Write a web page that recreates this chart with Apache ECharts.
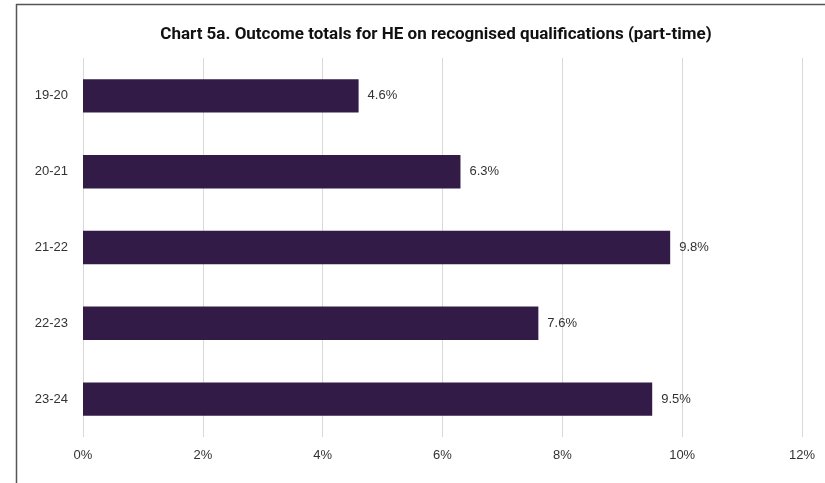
<!DOCTYPE html>
<html><head><meta charset="utf-8">
<script src="https://cdn.jsdelivr.net/npm/echarts@6/dist/echarts.min.js"></script>
<style>html,body{margin:0;padding:0;background:#fff}#c{width:825px;height:483px}</style>
</head><body><div id="c"></div>
<script>
var categories = ['19-20','20-21','21-22','22-23','23-24'];
var values = [4.6, 6.3, 9.8, 7.6, 9.5];
var xTicks = [0, 2, 4, 6, 8, 10, 12];
var chart = echarts.init(document.getElementById('c'));
chart.setOption({
  animation:false,
  title:{text:'Chart 5a. Outcome totals for HE on recognised qualifications (part-time)',left:431,textAlign:'center',top:21,
    textStyle:{fontFamily:'Roboto',fontWeight:'bold',fontSize:17,color:'#111'}},
  graphic:[
    {type:'line',shape:{x1:16,y1:4.5,x2:825,y2:4.5},style:{stroke:'#555',lineWidth:1.5}},
    {type:'line',shape:{x1:16.5,y1:4,x2:16.5,y2:483},style:{stroke:'#555',lineWidth:1.5}}
  ],
  grid:{left:83,right:23,top:58,bottom:46,containLabel:false},
  xAxis:{type:'value',min:xTicks[0],max:xTicks[xTicks.length-1],interval:2,
    axisLine:{show:false},axisTick:{show:false},
    splitLine:{lineStyle:{color:'#d9d9d9',width:1}},
    axisLabel:{formatter:'{value}%',margin:12,fontFamily:'Liberation Sans',fontSize:13,color:'#333'}},
  yAxis:{type:'category',data:categories,inverse:true,
    axisLine:{show:false},axisTick:{show:false},
    axisLabel:{margin:15,fontFamily:'Liberation Sans',fontSize:13,color:'#333'}},
  series:[{type:'bar',data:values,barCategoryGap:'56%',
    itemStyle:{color:'#321c47'},
    label:{show:true,position:'right',distance:9,formatter:function(p){return p.value.toFixed(1)+'%';},
      fontFamily:'Liberation Sans',fontSize:13,color:'#333'}}]
});
</script></body></html>
